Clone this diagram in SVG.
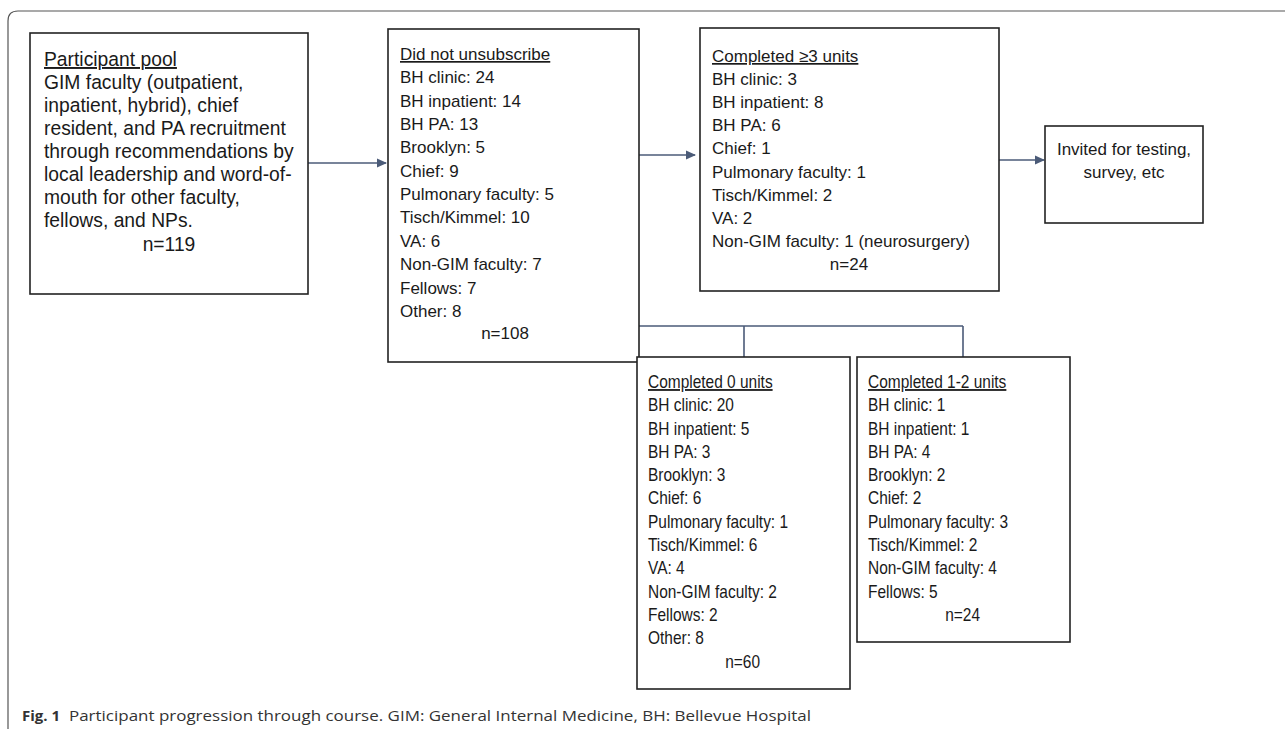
<svg xmlns="http://www.w3.org/2000/svg" width="1285" height="729" viewBox="0 0 1285 729">
<style>
.box{fill:#fff;stroke:#222;stroke-width:1.6}
.t{font-family:"Liberation Sans",Arial,sans-serif;font-size:17px;fill:#1a1a1a}
.t1{font-family:"Liberation Sans",Arial,sans-serif;font-size:19.3px;fill:#1a1a1a}
.c{font-family:"Liberation Sans",Arial,sans-serif;font-size:18px;fill:#1a1a1a}
.u{text-decoration:underline}
.conn{fill:none;stroke:#4b5b78;stroke-width:1.6}
.cap{font-family:"Open Sans","Noto Sans",sans-serif;font-size:15px;fill:#333}
</style>
<defs>
<marker id="ah" markerWidth="10" markerHeight="10" refX="9" refY="5" orient="auto" markerUnits="userSpaceOnUse">
<path d="M0,0.5 L10,5 L0,9.5 Z" fill="#4b5b78"/>
</marker>
</defs>
<path d="M8,729 L8,21 Q8,11 18,11 L1285,11" fill="none" stroke="#555" stroke-width="1.2"/>
<g id="connectors">
<line class="conn" x1="308" y1="163" x2="386" y2="163" marker-end="url(#ah)"/>
<line class="conn" x1="639" y1="155" x2="695" y2="155" marker-end="url(#ah)"/>
<line class="conn" x1="999" y1="160" x2="1044" y2="160" marker-end="url(#ah)"/>
<path class="conn" d="M639,326 L963,326 M744,326 L744,357 M963,326 L963,357"/>
</g>
<g id="n1">
<rect class="box" x="30" y="33" width="278" height="261"/>
<text class="t1"><tspan class="u" x="44" y="66">Participant pool</tspan><tspan x="44" y="89">GIM faculty (outpatient,</tspan><tspan x="44" y="112">inpatient, hybrid), chief</tspan><tspan x="44" y="135">resident, and PA recruitment</tspan><tspan x="44" y="158">through recommendations by</tspan><tspan x="44" y="181">local leadership and word-of-</tspan><tspan x="44" y="204">mouth for other faculty,</tspan><tspan x="44" y="227">fellows, and NPs.</tspan><tspan x="169" y="251" text-anchor="middle">n=119</tspan></text>
</g>
<g id="n2">
<rect class="box" x="388" y="29" width="251" height="333"/>
<text class="t"><tspan class="u" x="400" y="60">Did not unsubscribe</tspan><tspan x="400" y="83.4">BH clinic: 24</tspan><tspan x="400" y="106.7">BH inpatient: 14</tspan><tspan x="400" y="130">BH PA: 13</tspan><tspan x="400" y="153.4">Brooklyn: 5</tspan><tspan x="400" y="176.7">Chief: 9</tspan><tspan x="400" y="200">Pulmonary faculty: 5</tspan><tspan x="400" y="223.4">Tisch/Kimmel: 10</tspan><tspan x="400" y="246.8">VA: 6</tspan><tspan x="400" y="270">Non-GIM faculty: 7</tspan><tspan x="400" y="293.5">Fellows: 7</tspan><tspan x="400" y="317">Other: 8</tspan><tspan x="505" y="339" text-anchor="middle">n=108</tspan></text>
</g>
<g id="n3">
<rect class="box" x="700" y="28" width="299" height="263"/>
<text class="t"><tspan class="u" x="712" y="62">Completed ≥3 units</tspan><tspan x="712" y="85.1">BH clinic: 3</tspan><tspan x="712" y="108.2">BH inpatient: 8</tspan><tspan x="712" y="131.3">BH PA: 6</tspan><tspan x="712" y="154.4">Chief: 1</tspan><tspan x="712" y="177.5">Pulmonary faculty: 1</tspan><tspan x="712" y="200.6">Tisch/Kimmel: 2</tspan><tspan x="712" y="223.7">VA: 2</tspan><tspan x="712" y="246.8">Non-GIM faculty: 1 (neurosurgery)</tspan><tspan x="849" y="270" text-anchor="middle">n=24</tspan></text>
</g>
<g id="n4">
<rect class="box" x="1045" y="126" width="158" height="97"/>
<text class="t" text-anchor="middle"><tspan x="1124" y="155">Invited for testing,</tspan><tspan x="1124" y="178">survey, etc</tspan></text>
</g>
<g id="n5">
<rect class="box" x="637" y="357" width="213" height="332"/>
<g transform="translate(648,0) scale(0.86,1)">
<text class="c"><tspan class="u" x="0" y="388">Completed 0 units</tspan><tspan x="0" y="411.3">BH clinic: 20</tspan><tspan x="0" y="434.6">BH inpatient: 5</tspan><tspan x="0" y="457.9">BH PA: 3</tspan><tspan x="0" y="481.2">Brooklyn: 3</tspan><tspan x="0" y="504.5">Chief: 6</tspan><tspan x="0" y="527.8">Pulmonary faculty: 1</tspan><tspan x="0" y="551.1">Tisch/Kimmel: 6</tspan><tspan x="0" y="574.4">VA: 4</tspan><tspan x="0" y="597.7">Non-GIM faculty: 2</tspan><tspan x="0" y="621">Fellows: 2</tspan><tspan x="0" y="644.3">Other: 8</tspan><tspan x="110" y="667.6" text-anchor="middle">n=60</tspan></text>
</g>
</g>
<g id="n6">
<rect class="box" x="857" y="357" width="213" height="285"/>
<g transform="translate(868,0) scale(0.86,1)">
<text class="c"><tspan class="u" x="0" y="388">Completed 1-2 units</tspan><tspan x="0" y="411.3">BH clinic: 1</tspan><tspan x="0" y="434.6">BH inpatient: 1</tspan><tspan x="0" y="457.9">BH PA: 4</tspan><tspan x="0" y="481.2">Brooklyn: 2</tspan><tspan x="0" y="504.5">Chief: 2</tspan><tspan x="0" y="527.8">Pulmonary faculty: 3</tspan><tspan x="0" y="551.1">Tisch/Kimmel: 2</tspan><tspan x="0" y="574.4">Non-GIM faculty: 4</tspan><tspan x="0" y="597.7">Fellows: 5</tspan><tspan x="110" y="621" text-anchor="middle">n=24</tspan></text>
</g>
</g>
<g id="caption">
<text class="cap" x="22" y="721" font-weight="bold">Fig. 1</text>
<text class="cap" x="69" y="721" textLength="742" lengthAdjust="spacingAndGlyphs">Participant progression through course. GIM: General Internal Medicine, BH: Bellevue Hospital</text>
</g>
</svg>
